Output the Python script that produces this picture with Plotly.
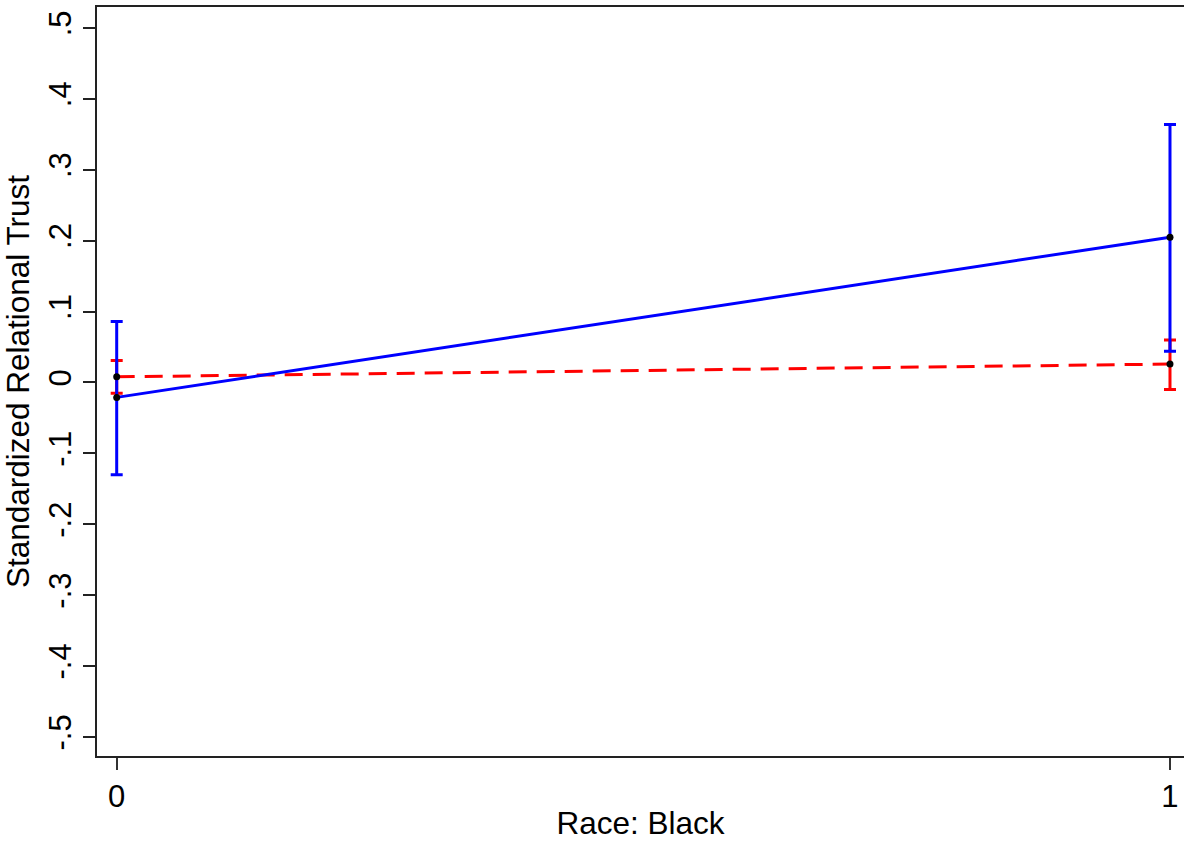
import plotly.graph_objects as go

# Predicted standardized relational trust by race (0 = not Black, 1 = Black)
race = [0, 1]

# Series shown with a solid blue line
blue_mean = [-0.021, 0.205]
blue_lo = [-0.130, 0.044]
blue_hi = [0.086, 0.364]

# Series shown with a dashed red line
red_mean = [0.008, 0.026]
red_lo = [-0.015, -0.010]
red_hi = [0.031, 0.060]

y_ticks = [0.5, 0.4, 0.3, 0.2, 0.1, 0, -0.1, -0.2, -0.3, -0.4, -0.5]
y_tick_text = [".5", ".4", ".3", ".2", ".1", "0", "-.1", "-.2", "-.3", "-.4", "-.5"]
x_ticks = [0, 1]
x_tick_text = ["0", "1"]


def err(mean, lo, hi):
    return dict(
        type="data",
        symmetric=False,
        array=[h - m for h, m in zip(hi, mean)],
        arrayminus=[m - l for m, l in zip(mean, lo)],
        thickness=3,
        width=6,
    )


fig = go.Figure()

red_err = err(red_mean, red_lo, red_hi)
red_err["color"] = "#ff0000"
fig.add_trace(go.Scatter(
    x=race, y=red_mean, mode="lines",
    line=dict(color="#ff0000", width=3, dash="18px,10px"),
    error_y=red_err, showlegend=False, hoverinfo="skip",
))

blue_err = err(blue_mean, blue_lo, blue_hi)
blue_err["color"] = "#0000ff"
fig.add_trace(go.Scatter(
    x=race, y=blue_mean, mode="lines",
    line=dict(color="#0000ff", width=3),
    error_y=blue_err, showlegend=False, hoverinfo="skip",
))

# point estimates as small black dots on top
fig.add_trace(go.Scatter(
    x=race + race, y=red_mean + blue_mean, mode="markers",
    marker=dict(color="black", size=7),
    showlegend=False,
))

axis_font = dict(family="Liberation Sans, Arial, sans-serif", size=31, color="black")
title_font = dict(family="Liberation Sans, Arial, sans-serif", size=31.5, color="black")

fig.update_layout(
    width=1184, height=841,
    margin=dict(l=97, r=0, t=7, b=85),
    paper_bgcolor="white", plot_bgcolor="white",
    font=axis_font,
    xaxis=dict(
        range=[-0.0187, 1.0133],
        tickvals=x_ticks, ticktext=x_tick_text,
        ticks="outside", ticklen=12, tickwidth=2, tickcolor="#333333",
        showline=True, linecolor="#222222", linewidth=2, mirror=True,
        showgrid=False, zeroline=False,
        tickfont=axis_font,
        title=dict(text="Race: Black", font=title_font, standoff=2),
    ),
    yaxis=dict(
        range=[-0.5268, 0.5296],
        tickvals=y_ticks, ticktext=y_tick_text, tickangle=-90,
        ticks="outside", ticklen=12, tickwidth=2, tickcolor="#222222",
        showline=True, linecolor="#222222", linewidth=2,
        showgrid=False, zeroline=False,
        tickfont=axis_font,
        title=dict(text="Standardized Relational Trust", font=title_font, standoff=4),
    ),
)

fig.write_html("out.html")
